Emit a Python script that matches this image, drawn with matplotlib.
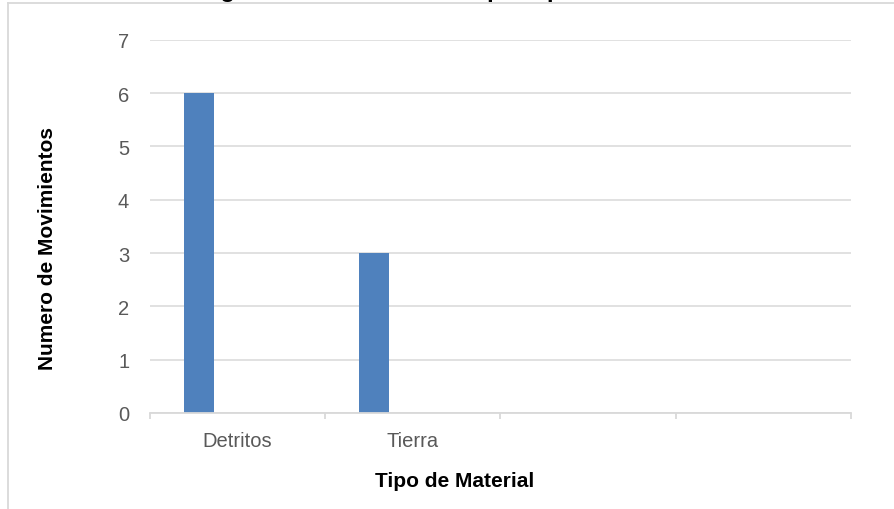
import matplotlib
matplotlib.use("Agg")
import matplotlib.pyplot as plt
from matplotlib.lines import Line2D
import numpy as np

title = "Diagrama de Movimientos por tipo de Material"
categories = ["Detritos", "Tierra", "", ""]
values = [6, 3, 0, 0]
xlabel = "Tipo de Material"
ylabel = "Numero de Movimientos"
yticks = [0, 1, 2, 3, 4, 5, 6, 7]

plt.rcParams['font.family'] = ['Liberation Sans', 'DejaVu Sans']

W, H = 895, 510
fig = plt.figure(figsize=(W / 100, H / 100), dpi=100)
fig.patch.set_facecolor("white")

ax = fig.add_axes([150 / W, 1 - 414 / H, (851 - 150) / W, (414 - 40.7) / H])

x = np.arange(len(categories))
bar_w = 30 / 175
offset = -0.5 + 49 / 175
ax.bar(x + offset, values, width=bar_w, color="#4f81bd", zorder=3)

ax.set_xlim(-0.5, len(categories) - 0.5)
ax.set_ylim(0, 7)
ax.set_yticks(yticks)
ax.set_yticklabels([str(v) for v in yticks])
ax.grid(axis="y", color="#d9d9d9", linewidth=1.1, zorder=0)
ax.set_axisbelow(True)

for s in ["top", "right", "left"]:
    ax.spines[s].set_visible(False)
ax.spines["bottom"].set_color("#d9d9d9")
ax.spines["bottom"].set_linewidth(1.3)
ax.spines["bottom"].set_zorder(4)

ax.set_xticks(x)
ax.set_xticklabels(categories)
ax.set_xticks(np.arange(-0.5, len(categories)), minor=True)
ax.tick_params(axis="x", which="major", length=0, pad=13, labelsize=14.5, labelcolor="#595959")
ax.tick_params(axis="x", which="minor", length=4.5, width=1.3, color="#d9d9d9")
ax.tick_params(axis="y", length=0, pad=15, labelsize=14.5, labelcolor="#595959")

# axis titles
fig.text(454.5 / W, 1 - 482 / H, xlabel, ha="center", va="center",
         fontsize=15, fontweight="bold", color="black")
fig.text(48 / W, 1 - 248.5 / H, ylabel, ha="center", va="center",
         rotation=90, fontsize=15, fontweight="bold", color="black")

# chart title (mostly cut off by the top edge, as in the reference)
fig.text(446 / W, 1 + 3 / H, title, ha="center", va="baseline",
         fontsize=17.3, fontweight="bold", color="black")

# chart area border (left and top)
fig.add_artist(Line2D([8 / W, 8 / W], [0, 1 - 4 / H], transform=fig.transFigure,
                      color="#d9d9d9", linewidth=1.3))
fig.add_artist(Line2D([8 / W, 1], [1 - 4 / H, 1 - 4 / H], transform=fig.transFigure,
                      color="#d9d9d9", linewidth=1.3))

fig.savefig("out.png", dpi=100, facecolor="white")
